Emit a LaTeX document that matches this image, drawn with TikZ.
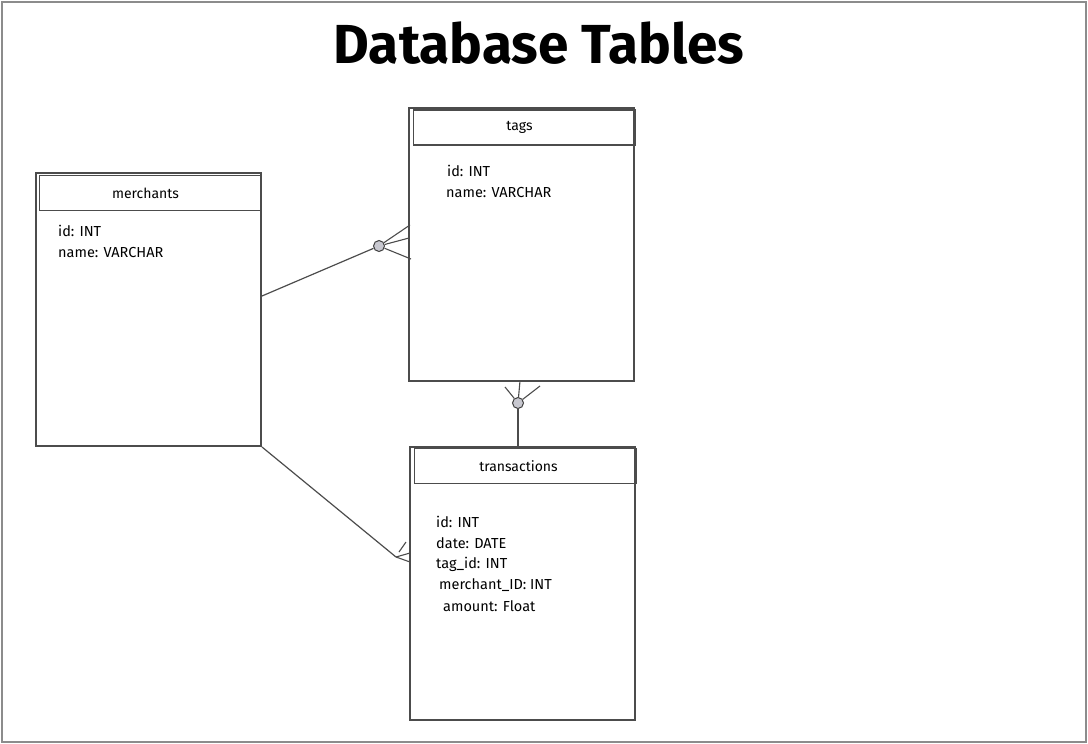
\documentclass[tikz,border=0pt]{standalone}
\usepackage{fontspec}
\setmainfont{Fira Sans}
\begin{document}
\begin{tikzpicture}[x=1pt,y=-1pt,
  ln/.style={draw=black!70,line width=1.2pt},
  tbl/.style={ln,rectangle,minimum width=225pt,minimum height=273pt,inner sep=0pt},
  hdr/.style={ln,rectangle,minimum width=222pt,minimum height=35pt,inner sep=0pt,font=\fontsize{14}{16}\selectfont},
  fld/.style={anchor=west,inner sep=0pt,font=\fontsize{14.5}{16}\selectfont},
  knob/.style={circle,draw=black!75,fill=blue!8!gray!40!white,line width=1pt,minimum size=11pt,inner sep=0pt},
  foot/.style={draw=black!70,line width=1.1pt}]
\useasboundingbox (0,0) rectangle (1088,744);
\node[draw=black!45,line width=1.2pt,rectangle,minimum width=1084pt,minimum height=740pt,inner sep=0pt] (frame) at (544,372) {};
\node[font=\fontsize{55}{58}\selectfont\bfseries] (title) at (539,43) {Database Tables};

% merchants
\node[tbl] (merch) at (148.5,309.5) {};
\node[hdr] (mhead) at (150.5,193) {\hspace*{-10pt}merchants};
\node[fld] (m1) at (58,231) {id: INT};
\node[fld] (m2) at (58,253) {name: VARCHAR};

% tags
\node[tbl] (tags) at (521.5,244.5) {};
\node[hdr] (thead) at (524.5,127.5) {\hspace*{-10pt}tags};
\node[fld] (t1) at (447,171) {id: INT};
\node[fld] (t2) at (446,193) {name: VARCHAR};

% transactions
\node[tbl] (trans) at (522.5,583.5) {};
\node[hdr] (xhead) at (525.5,466) {\hspace*{-14pt}transactions};
\node[fld] (x1) at (436,522) {id: INT};
\node[fld] (x2) at (436,543) {date: DATE};
\node[fld] (x3) at (436,564) {tag\_id: INT};
\node[fld] (x4) at (439,585) {merchant\_ID: INT};
\node[fld] (x5) at (443,606) {amount: Float};

% merchants -- tags
\coordinate (a0) at (262,296);
\node[knob] (k1) at (379,246) {};
\coordinate (a1) at (410,225);
\coordinate (a2) at (409,238);
\coordinate (a3) at (411,259);
\draw[ln] (a0) -- (k1);
\draw[foot] (k1) -- (a1);
\draw[foot] (k1) -- (a2);
\draw[foot] (k1) -- (a3);

% tags -- transactions
\node[knob] (k2) at (518,403) {};
\coordinate (b1) at (505,387);
\coordinate (b2) at (520,381);
\coordinate (b3) at (540,386);
\coordinate (b4) at (518,446);
\draw[foot] (k2) -- (b1);
\draw[foot] (k2) -- (b2);
\draw[foot] (k2) -- (b3);
\draw[ln] (k2) -- (b4);

% merchants -- transactions
\coordinate (c0) at (262,447);
\coordinate (c1) at (396,557);
\coordinate (c2) at (410,553);
\coordinate (c3) at (410,562);
\coordinate (c4) at (399,552);
\coordinate (c5) at (406,542);
\draw[ln] (c0) -- (c1);
\draw[foot] (c1) -- (c2);
\draw[foot] (c1) -- (c3);
\draw[foot] (c4) -- (c5);
\end{tikzpicture}
\end{document}
